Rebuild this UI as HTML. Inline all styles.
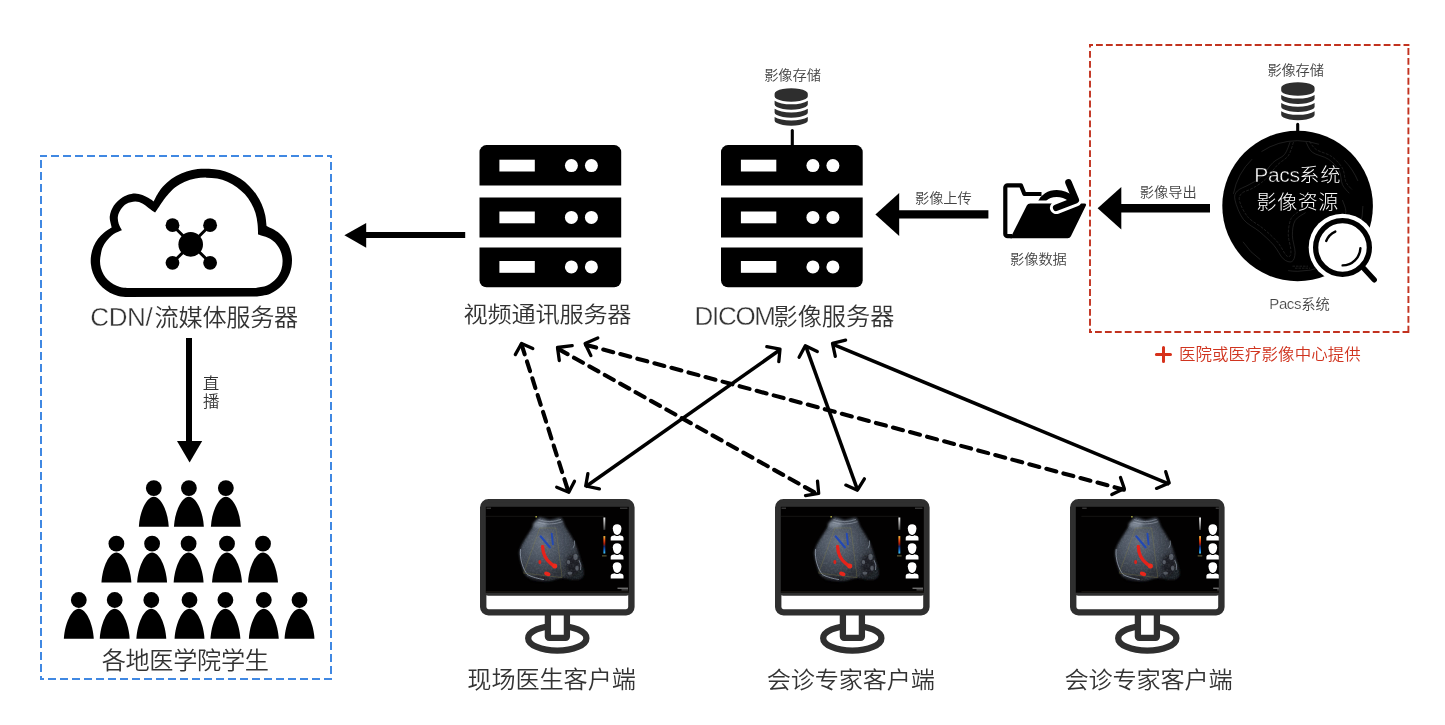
<!DOCTYPE html>
<html lang="zh-CN">
<head>
<meta charset="utf-8">
<title>远程会诊系统架构</title>
<style>
html,body{margin:0;padding:0;background:#fff;}
body{width:1445px;height:725px;overflow:hidden;}
svg{display:block;font-family:"Liberation Sans", "Noto Sans CJK SC", sans-serif;will-change:transform;}
</style>
</head>
<body>
<svg width="1445" height="725" viewBox="0 0 1445 725">
<g fill="none" stroke="#4088e2" stroke-width="2">
<path d="M40 156H47M327 156H332M331 156V158M331 678V680M40 679H44M41 676V680"/>
<path stroke-dasharray="8 4" d="M51 156H323M331 162V674M48 679H332M41 160V672"/>
</g>
<path d="M127.00 297.00C125.53 296.82 121.01 296.62 118.15 295.91C115.29 295.19 112.44 294.08 109.84 292.69C107.24 291.29 104.74 289.52 102.56 287.54C100.38 285.55 98.38 283.23 96.75 280.77C95.12 278.31 93.76 275.57 92.77 272.79C91.79 270.01 91.13 267.02 90.86 264.08C90.58 261.15 90.67 258.09 91.12 255.17C91.57 252.26 92.41 249.31 93.55 246.59C94.70 243.88 96.23 241.22 98.00 238.87C99.77 236.51 101.91 234.33 104.20 232.46C106.48 230.58 110.45 228.41 111.70 227.60C111.38 225.75 109.42 220.13 109.75 216.50C110.08 212.87 111.84 208.82 113.70 205.80C115.56 202.78 118.52 200.23 120.90 198.40C123.28 196.57 125.65 195.63 128.00 194.80C130.35 193.97 132.60 193.37 135.00 193.40C137.40 193.43 140.13 194.22 142.40 195.00C144.67 195.78 146.73 197.03 148.60 198.10C150.47 199.17 152.77 200.85 153.60 201.40C154.53 199.73 156.96 194.49 159.16 191.40C161.37 188.31 164.00 185.39 166.83 182.84C169.66 180.29 172.84 178.01 176.13 176.11C179.43 174.22 183.00 172.65 186.59 171.48C190.18 170.31 193.96 169.52 197.68 169.07C201.40 168.63 205.20 168.64 208.92 168.81C212.64 168.99 216.39 169.34 220.02 170.12C223.65 170.90 227.26 172.05 230.68 173.50C234.09 174.95 237.42 176.76 240.50 178.83C243.58 180.90 246.52 183.30 249.15 185.91C251.78 188.52 254.21 191.44 256.30 194.50C258.40 197.56 260.23 200.88 261.71 204.28C263.19 207.68 264.36 211.29 265.17 214.91C265.99 218.53 266.36 224.15 266.60 226.00C268.72 227.19 275.68 230.05 279.29 233.15C282.90 236.25 286.13 240.34 288.24 244.59C290.35 248.84 291.69 253.90 291.95 258.64C292.20 263.37 291.43 268.55 289.80 273.01C288.16 277.46 285.40 281.91 282.14 285.35C278.88 288.80 274.59 291.79 270.23 293.67C265.87 295.54 258.37 296.11 256.00 296.60ZM127.00 287.90C125.84 287.75 122.26 287.58 120.01 286.98C117.76 286.38 115.52 285.45 113.50 284.28C111.48 283.12 109.56 281.64 107.91 279.99C106.26 278.34 104.78 276.42 103.62 274.40C102.45 272.38 101.52 270.14 100.92 267.89C100.32 265.64 100.00 263.23 100.00 260.90C100.00 258.57 100.49 256.16 100.92 253.91C101.35 251.66 101.67 249.57 102.60 247.40C103.53 245.23 104.65 243.15 106.50 240.90C108.35 238.65 111.13 235.68 113.70 233.90C116.27 232.12 120.53 230.82 121.90 230.20C121.37 229.12 119.37 225.98 118.70 223.70C118.03 221.42 117.53 218.90 117.90 216.50C118.27 214.10 119.45 211.42 120.90 209.30C122.35 207.18 124.22 205.08 126.60 203.80C128.98 202.52 132.57 201.65 135.20 201.60C137.83 201.55 140.17 202.45 142.40 203.50C144.63 204.55 146.48 206.38 148.60 207.90C150.72 209.42 154.02 211.82 155.10 212.60C155.76 211.62 157.78 208.65 159.09 206.71C160.39 204.77 161.56 202.88 162.94 200.97C164.33 199.06 165.33 197.51 167.39 195.24C169.45 192.97 172.39 189.62 175.30 187.36C178.21 185.09 181.51 183.14 184.87 181.65C188.22 180.15 191.85 179.06 195.43 178.39C199.01 177.72 202.72 177.59 206.34 177.63C209.95 177.67 213.59 177.92 217.11 178.61C220.63 179.31 224.15 180.38 227.44 181.80C230.73 183.22 233.94 185.03 236.85 187.13C239.76 189.22 242.51 191.68 244.90 194.35C247.29 197.02 249.44 200.01 251.21 203.13C252.97 206.25 254.43 209.64 255.48 213.06C256.54 216.49 257.09 220.09 257.53 223.68C257.97 227.27 258.01 232.78 258.10 234.60C260.17 235.34 267.13 236.94 270.53 239.02C273.92 241.09 276.49 243.94 278.46 247.04C280.42 250.14 281.84 253.99 282.35 257.63C282.85 261.27 282.54 265.35 281.50 268.88C280.45 272.40 278.48 275.99 276.07 278.76C273.65 281.53 270.37 283.99 267.02 285.51C263.68 287.03 257.84 287.50 256.00 287.90Z" fill="#000" fill-rule="evenodd"/>
<g stroke="#000" stroke-width="3"><path d="M172.5 225.2L210.10000000000002 262.8M210.10000000000002 225.2L172.5 262.8"/></g>
<circle cx="190.70000000000002" cy="244.4" r="12.3"/>
<circle cx="172.5" cy="225.2" r="6.9"/>
<circle cx="172.5" cy="262.8" r="6.9"/>
<circle cx="210.10000000000002" cy="225.2" r="6.9"/>
<circle cx="210.10000000000002" cy="262.8" r="6.9"/>
<path d="M186 338h6v103h-6z"/>
<path d="M177 441h25.2L189.6 462.6z"/>
<circle cx="153.8" cy="488.05" r="7.9"/>
<path d="M138.85 526.75C139.65 511.75 146.40 496.75 153.80 496.75C161.20 496.75 167.95 511.75 168.75 526.75Z"/>
<circle cx="188.9" cy="488.05" r="7.9"/>
<path d="M173.95 526.75C174.75 511.75 181.50 496.75 188.90 496.75C196.30 496.75 203.05 511.75 203.85 526.75Z"/>
<circle cx="225.85" cy="488.05" r="7.9"/>
<path d="M210.90 526.75C211.70 511.75 218.45 496.75 225.85 496.75C233.25 496.75 240.00 511.75 240.80 526.75Z"/>
<circle cx="116.4" cy="543.7" r="7.9"/>
<path d="M101.45 582.40C102.25 567.40 109.00 552.40 116.40 552.40C123.80 552.40 130.55 567.40 131.35 582.40Z"/>
<circle cx="152.1" cy="543.7" r="7.9"/>
<path d="M137.15 582.40C137.95 567.40 144.70 552.40 152.10 552.40C159.50 552.40 166.25 567.40 167.05 582.40Z"/>
<circle cx="188.6" cy="543.7" r="7.9"/>
<path d="M173.65 582.40C174.45 567.40 181.20 552.40 188.60 552.40C196.00 552.40 202.75 567.40 203.55 582.40Z"/>
<circle cx="227" cy="543.7" r="7.9"/>
<path d="M212.05 582.40C212.85 567.40 219.60 552.40 227.00 552.40C234.40 552.40 241.15 567.40 241.95 582.40Z"/>
<circle cx="263" cy="543.7" r="7.9"/>
<path d="M248.05 582.40C248.85 567.40 255.60 552.40 263.00 552.40C270.40 552.40 277.15 567.40 277.95 582.40Z"/>
<circle cx="78.8" cy="600.0" r="7.9"/>
<path d="M63.85 638.70C64.65 623.70 71.40 608.70 78.80 608.70C86.20 608.70 92.95 623.70 93.75 638.70Z"/>
<circle cx="114.7" cy="600.0" r="7.9"/>
<path d="M99.75 638.70C100.55 623.70 107.30 608.70 114.70 608.70C122.10 608.70 128.85 623.70 129.65 638.70Z"/>
<circle cx="151.3" cy="600.0" r="7.9"/>
<path d="M136.35 638.70C137.15 623.70 143.90 608.70 151.30 608.70C158.70 608.70 165.45 623.70 166.25 638.70Z"/>
<circle cx="189.5" cy="600.0" r="7.9"/>
<path d="M174.55 638.70C175.35 623.70 182.10 608.70 189.50 608.70C196.90 608.70 203.65 623.70 204.45 638.70Z"/>
<circle cx="225.4" cy="600.0" r="7.9"/>
<path d="M210.45 638.70C211.25 623.70 218.00 608.70 225.40 608.70C232.80 608.70 239.55 623.70 240.35 638.70Z"/>
<circle cx="263.8" cy="600.0" r="7.9"/>
<path d="M248.85 638.70C249.65 623.70 256.40 608.70 263.80 608.70C271.20 608.70 277.95 623.70 278.75 638.70Z"/>
<circle cx="299.5" cy="600.0" r="7.9"/>
<path d="M284.55 638.70C285.35 623.70 292.10 608.70 299.50 608.70C306.90 608.70 313.65 623.70 314.45 638.70Z"/>
<path d="M366 232h99.2v6H366z"/>
<path d="M344.4 235.3L366.2 223v24.8z"/>
<g transform="translate(479.5 145.1)">
<path d="M0 40.3V7a7 7 0 0 1 7-7H134.7a7 7 0 0 1 7 7V40.3z"/>
<rect x="0" y="52.4" width="141.7" height="40"/>
<path d="M0 102.3H141.7V135.1a7 7 0 0 1-7 7H7a7 7 0 0 1-7-7z"/>
<rect x="19.9" y="14.6" width="35.4" height="11.8" fill="#fff"/>
<circle cx="91.9" cy="20.5" r="6.5" fill="#fff"/>
<circle cx="111.9" cy="20.5" r="6.5" fill="#fff"/>
<rect x="19.9" y="66.39999999999999" width="35.4" height="11.8" fill="#fff"/>
<circle cx="91.9" cy="72.3" r="6.5" fill="#fff"/>
<circle cx="111.9" cy="72.3" r="6.5" fill="#fff"/>
<rect x="19.9" y="115.89999999999999" width="35.4" height="11.8" fill="#fff"/>
<circle cx="91.9" cy="121.8" r="6.5" fill="#fff"/>
<circle cx="111.9" cy="121.8" r="6.5" fill="#fff"/>
</g>
<g transform="translate(721 145.1)">
<path d="M0 40.3V7a7 7 0 0 1 7-7H134.7a7 7 0 0 1 7 7V40.3z"/>
<rect x="0" y="52.4" width="141.7" height="40"/>
<path d="M0 102.3H141.7V135.1a7 7 0 0 1-7 7H7a7 7 0 0 1-7-7z"/>
<rect x="19.9" y="14.6" width="35.4" height="11.8" fill="#fff"/>
<circle cx="91.9" cy="20.5" r="6.5" fill="#fff"/>
<circle cx="111.9" cy="20.5" r="6.5" fill="#fff"/>
<rect x="19.9" y="66.39999999999999" width="35.4" height="11.8" fill="#fff"/>
<circle cx="91.9" cy="72.3" r="6.5" fill="#fff"/>
<circle cx="111.9" cy="72.3" r="6.5" fill="#fff"/>
<rect x="19.9" y="115.89999999999999" width="35.4" height="11.8" fill="#fff"/>
<circle cx="91.9" cy="121.8" r="6.5" fill="#fff"/>
<circle cx="111.9" cy="121.8" r="6.5" fill="#fff"/>
</g>
<path transform="translate(771.8333333333334 88.3) scale(0.021614583333333336 0.020926339285714284)" fill="#2e2e2e" d="M896 768q237 0 443-43t325-127v170q0 69-103 128t-280 93.5-385 34.5-385-34.5-280-93.5-103-128v-170q119 84 325 127t443 43zM896 1536q237 0 443-43t325-127v170q0 69-103 128t-280 93.5-385 34.5-385-34.5-280-93.5-103-128v-170q119 84 325 127t443 43zM896 1152q237 0 443-43t325-127v170q0 69-103 128t-280 93.5-385 34.5-385-34.5-280-93.5-103-128v-170q119 84 325 127t443 43zM896 0q208 0 385 34.5t280 93.5 103 128v128q0 69-103 128t-280 93.5-385 34.5-385-34.5-280-93.5-103-128v-128q0-69 103-128t280-93.5 385-34.5z"/>
<path d="M792.3 130.6V146" stroke="#000" stroke-width="3.1" stroke-linecap="round"/>
<path d="M899 210.2h89.4v8.4H899z"/>
<path d="M875.4 214.4L899.2 192.9v43z"/>
<g>
<path d="M1012 236.2H1007.6a2.3 2.3 0 0 1-2.3-2.3V187.6a2.3 2.3 0 0 1 2.3-2.3H1020.9L1024.4 194H1041.5" fill="none" stroke="#000" stroke-width="4.2" stroke-linejoin="round"/>
<path d="M1030.2 203.5H1084.3q2.6 0 1.5 2.3L1070.9 236.3q-1 2-3.2 2H1010.3L1026.8 205.5q1-2 3.4-2z"/>
<path d="M1075.8 200.1L1056.2 207.8" fill="none" stroke="#fff" stroke-width="12.6" stroke-linecap="round"/>
<clipPath id="fc"><rect x="1030" y="180" width="60" height="20.4"/></clipPath>
<path clip-path="url(#fc)" d="M1040.6 204C1043 197.2 1049.5 193.5 1056.7 193.5C1062.5 193.5 1067.5 195.6 1071.5 199.2" fill="none" stroke="#000" stroke-width="6.8"/>
<path d="M1068.5 182.4L1075.8 200.1L1056.2 207.8" fill="none" stroke="#000" stroke-width="6.6" stroke-linecap="round" stroke-linejoin="round"/>
</g>
<g fill="none" stroke="#c2321f" stroke-width="1.9">
<path d="M1089 45H1093M1090 44V47.5M1089 332H1092"/>
<path stroke-dasharray="6.8 3.12" d="M1096 45H1409.4M1408.4 48.1V333M1095 332H1409.4M1090 51V333"/>
</g>
<path transform="translate(1278.4166666666667 82.3) scale(0.021744791666666666 0.02114955357142857)" fill="#2e2e2e" d="M896 768q237 0 443-43t325-127v170q0 69-103 128t-280 93.5-385 34.5-385-34.5-280-93.5-103-128v-170q119 84 325 127t443 43zM896 1536q237 0 443-43t325-127v170q0 69-103 128t-280 93.5-385 34.5-385-34.5-280-93.5-103-128v-170q119 84 325 127t443 43zM896 1152q237 0 443-43t325-127v170q0 69-103 128t-280 93.5-385 34.5-385-34.5-280-93.5-103-128v-170q119 84 325 127t443 43zM896 0q208 0 385 34.5t280 93.5 103 128v128q0 69-103 128t-280 93.5-385 34.5-385-34.5-280-93.5-103-128v-128q0-69 103-128t280-93.5 385-34.5z"/>
<path d="M1297.7 124.4V135" stroke="#000" stroke-width="3.1" stroke-linecap="round"/>
<path d="M1121 204h89v8.6h-89z"/>
<path d="M1097.6 208.3L1121.3 187v42.5z"/>
<circle cx="1297.6" cy="206" r="75.3"/>
<g fill="none" stroke="#8c8c8c" stroke-width="0.6" opacity="0.36">
<circle cx="1297.6" cy="206" r="65.3" stroke-dasharray="40 12 60 30 25 50" />
<path d="M1290.1 142.1C1289.15 144.15 1287.26 151.17 1284.41 154.59C1281.57 158.00 1277.02 158.76 1273.03 162.55C1269.05 166.34 1264.50 173.66 1260.52 177.34C1256.53 181.02 1253.01 182.35 1249.14 184.63C1245.27 186.90 1239.65 188.42 1237.30 191.00C1234.95 193.58 1234.00 195.36 1235.03 200.10C1236.05 204.84 1239.39 214.21 1243.45 219.45C1247.51 224.68 1254.33 227.22 1259.38 231.51C1264.42 235.80 1269.73 240.61 1273.72 245.16C1277.70 249.72 1280.24 256.09 1283.27 258.82C1286.31 261.55 1289.95 262.61 1291.92 261.55C1293.90 260.49 1295.03 256.81 1295.11 252.45C1295.19 248.08 1292.38 240.69 1292.38 235.38C1292.38 230.07 1292.91 224.38 1295.11 220.58C1297.31 216.79 1303.83 213.95 1305.58 212.62"/>
<path d="M1293.5 142.1C1292.64 144.34 1290.94 151.93 1288.28 155.72C1285.63 159.52 1281.45 160.84 1277.59 164.83C1273.72 168.81 1269.24 175.71 1265.07 179.62C1260.90 183.53 1256.42 185.99 1252.55 188.27C1248.68 190.54 1244.02 191.11 1241.85 193.27C1239.69 195.44 1238.55 197.26 1239.58 201.24C1240.60 205.22 1244.05 212.62 1248.00 217.17C1251.94 221.72 1258.32 224.38 1263.25 228.55C1268.18 232.72 1273.79 237.77 1277.59 242.21C1281.38 246.64 1283.92 252.90 1286.01 255.18C1288.09 257.45 1289.31 256.88 1290.10 255.86C1290.90 254.84 1291.09 252.64 1290.79 249.03C1290.48 245.43 1288.21 239.36 1288.28 234.24C1288.36 229.12 1289.04 222.41 1291.24 218.31C1293.44 214.21 1299.77 211.10 1301.48 209.66" stroke-dasharray="3 1.2"/>
<path d="M1306.0 142.1C1307.10 143.78 1308.69 149.47 1312.41 152.31C1316.12 155.15 1323.90 156.10 1328.34 159.14C1332.77 162.17 1336.68 166.27 1339.03 170.52C1341.38 174.76 1340.74 180.83 1342.45 184.63C1344.15 188.42 1348.14 191.83 1349.27 193.27"/>
<path d="M1309.4 141.4C1310.58 142.75 1312.60 147.08 1316.27 149.58C1319.95 152.08 1327.16 153.30 1331.52 156.41C1335.88 159.52 1340.06 163.99 1342.45 168.24C1344.84 172.49 1344.23 178.29 1345.86 181.90C1347.49 185.50 1351.17 188.53 1352.23 189.86" stroke-dasharray="3 1.2"/>
<path d="M1342.4 200.1C1343.02 202.00 1345.86 207.69 1345.86 211.48C1345.86 215.27 1343.02 220.96 1342.45 222.86"/>
<path d="M1292.5 266.2H1308M1295 268.2H1310" stroke-dasharray="2.5 1"/>
</g>
<circle cx="1342.5" cy="247.5" r="33.8" fill="#fff"/>
<path d="M1362.5 267L1374.2 279.8" stroke="#000" stroke-width="5.4" stroke-linecap="round"/>
<circle cx="1342.5" cy="247.5" r="26.85" fill="#fff" stroke="#000" stroke-width="5.3"/>
<g fill="none" stroke="#000" stroke-width="2.4" stroke-linecap="round"><path d="M1326.2 241A17.5 17.5 0 0 1 1335.3 231.6"/><path d="M1360.4 248.2A17.9 17.9 0 0 1 1342.6 265.4"/></g>
<path d="M1156.4 354.5H1170.5M1163.5 347.6V361.5" stroke="#d7311b" stroke-width="3" stroke-linecap="round" fill="none"/>
<path d="M521.6 344.6L568.4 491.8" stroke="#000" stroke-width="4.1" stroke-linecap="round" stroke-dasharray="10.3 7.35" fill="none"/>
<path d="M515.3 354.6L521.5 343.5L532.8 348.5" fill="none" stroke="#000" stroke-width="3.3" stroke-linecap="round" stroke-linejoin="round"/>
<path d="M556.7 487.2L568.8 492.2L574.5 481.3" fill="none" stroke="#000" stroke-width="3.3" stroke-linecap="round" stroke-linejoin="round"/>
<path d="M558.6 349.1L818.2 494.5" stroke="#000" stroke-width="4.1" stroke-linecap="round" stroke-dasharray="10.3 7.35" fill="none"/>
<path d="M572.2 345.7L557.5 347.5L559.3 360.5" fill="none" stroke="#000" stroke-width="3.3" stroke-linecap="round" stroke-linejoin="round"/>
<path d="M817.5 481.1L818.7 493.4L805.5 495.6" fill="none" stroke="#000" stroke-width="3.3" stroke-linecap="round" stroke-linejoin="round"/>
<path d="M586.2 344.9L1123.9 489.7" stroke="#000" stroke-width="4.1" stroke-linecap="round" stroke-dasharray="10.3 7.35" fill="none"/>
<path d="M597.8 337.9L585.1 343.5L590.9 355.6" fill="none" stroke="#000" stroke-width="3.3" stroke-linecap="round" stroke-linejoin="round"/>
<path d="M1120.5 477.5L1124.3 488.5L1111.8 494.6" fill="none" stroke="#000" stroke-width="3.3" stroke-linecap="round" stroke-linejoin="round"/>
<path d="M780.0 349.8L585.6 486.8" stroke="#000" stroke-width="3.5" fill="none"/>
<path d="M766.8 346.7L780.0 349.1L778.8 361.7" fill="none" stroke="#000" stroke-width="3.3" stroke-linecap="round" stroke-linejoin="round"/>
<path d="M587.9 473.6L585.7 486.0L599.4 488.9" fill="none" stroke="#000" stroke-width="3.3" stroke-linecap="round" stroke-linejoin="round"/>
<path d="M805.6 345.6L857.7 490.3" stroke="#000" stroke-width="3.5" fill="none"/>
<path d="M799.1 357.2L805.3 345.7L817.3 351.5" fill="none" stroke="#000" stroke-width="3.3" stroke-linecap="round" stroke-linejoin="round"/>
<path d="M845.8 485.1L857.4 490.2L864.4 478.8" fill="none" stroke="#000" stroke-width="3.3" stroke-linecap="round" stroke-linejoin="round"/>
<path d="M832.5 344.2L1169.3 484.1" stroke="#000" stroke-width="3.5" fill="none"/>
<path d="M845.6 340.2L832.5 343.4L835.3 356.4" fill="none" stroke="#000" stroke-width="3.3" stroke-linecap="round" stroke-linejoin="round"/>
<path d="M1165.7 471.7L1169.2 483.1L1156.5 488.4" fill="none" stroke="#000" stroke-width="3.3" stroke-linecap="round" stroke-linejoin="round"/>
<defs>
<radialGradient id="ug" gradientUnits="userSpaceOnUse" cx="62" cy="42" r="48"><stop offset="0" stop-color="#646d7a"/><stop offset="0.4" stop-color="#48505c"/><stop offset="0.75" stop-color="#31363e"/><stop offset="1" stop-color="#1d2025"/></radialGradient>
<linearGradient id="cb1" x1="0" y1="0" x2="0" y2="1"><stop offset="0" stop-color="#f0f0f0"/><stop offset="1" stop-color="#3a3a3a"/></linearGradient>
<linearGradient id="cb2" x1="0" y1="0" x2="0" y2="1"><stop offset="0" stop-color="#f0c040"/><stop offset="0.25" stop-color="#e84a10"/><stop offset="0.45" stop-color="#a01808"/><stop offset="0.6" stop-color="#102a70"/><stop offset="0.8" stop-color="#1a6ad0"/><stop offset="1" stop-color="#40c8f0"/></linearGradient>
<filter id="bl" x="-20%" y="-20%" width="140%" height="140%"><feGaussianBlur stdDeviation="1.1"/></filter>
<filter id="bl2" x="-30%" y="-30%" width="160%" height="160%"><feGaussianBlur stdDeviation="0.45"/></filter>
<filter id="bl3" x="-30%" y="-30%" width="160%" height="160%"><feGaussianBlur stdDeviation="1.8"/></filter>
<filter id="nz" x="0" y="0" width="100%" height="100%"><feTurbulence type="fractalNoise" baseFrequency="0.55" numOctaves="2" seed="7" result="n"/><feColorMatrix in="n" type="matrix" values="0 0 0 0 0.75  0 0 0 0 0.8  0 0 0 0 0.9  1.6 0 0 0 -0.62"/><feComposite in2="SourceGraphic" operator="in"/><feGaussianBlur stdDeviation="0.35"/></filter>
<g id="bust" fill="#fff"><path d="M0 -8.1C2.6 -8.1 4.3 -6.6 4.3 -4.1C4.3 -2.6 4.0 -1.0 3.2 0.4C2.4 1.7 1.3 2.5 0 2.5C-1.3 2.5 -2.4 1.7 -3.2 0.4C-4.0 -1.0 -4.3 -2.6 -4.3 -4.1C-4.3 -6.6 -2.6 -8.1 0 -8.1Z"/><path d="M-6.4 8.1V5.7C-6.4 4.4 -5.6 3.6 -4.3 3.3L-2.2 2.8C-1.6 3.4 -0.8 3.7 0 3.7C0.8 3.7 1.6 3.4 2.2 2.8L4.3 3.3C5.6 3.6 6.4 4.4 6.4 5.7V8.1Z"/></g>
<clipPath id="scr"><rect x="5.8" y="7.7" width="143" height="85.9"/></clipPath>
<g id="us">
<path d="M5.7 17.2H124" stroke="#2a2a26" stroke-width="0.5"/>
<g filter="url(#bl)"><path d="M58.5 18.6C55.4 20.2 54.0 26.0 51.1 30.7C48.2 35.4 43.3 42.7 41.4 46.8C39.5 50.9 39.4 52.2 39.5 55.5C39.6 58.8 41.0 63.3 42.0 66.7C43.0 70.1 43.6 73.6 45.5 75.8C47.4 78.0 49.9 79.0 53.5 80.0C57.1 81.0 62.4 82.2 67.2 82.0C72.0 81.8 77.8 79.0 82.1 78.8C86.4 78.6 89.8 80.5 93 80.6C96.2 80.7 99.7 80.8 101.5 79.5C103.3 78.2 104.1 76.1 103.8 72.5C103.5 68.9 101.3 62.9 99.8 58C98.2 53.1 96.9 48.1 94.5 43.1C92.1 38.1 87.9 32.3 85.6 28.2C83.3 24.1 83.5 19.8 80.9 18.6C78.3 17.4 73.7 20.8 70 20.8C66.3 20.8 61.6 17.0 58.5 18.6Z" fill="url(#ug)"/></g>
<g filter="url(#bl3)" opacity="0.75"><ellipse cx="93" cy="66" rx="7" ry="11" fill="#15181c"/><ellipse cx="60" cy="25.5" rx="7" ry="3.5" fill="#8a94a2"/><ellipse cx="60" cy="79" rx="10" ry="2.5" fill="#1a1d22"/><ellipse cx="78" cy="74" rx="6" ry="4" fill="#2a2e34"/></g>
<g filter="url(#bl2)" opacity="0.5" fill="#8a929e"><ellipse cx="95.5" cy="58" rx="2.2" ry="3"/><ellipse cx="97" cy="69" rx="1.8" ry="2.6"/><ellipse cx="90" cy="74" rx="2.4" ry="1.6"/><ellipse cx="88.5" cy="63" rx="1.6" ry="2.2"/></g>
<path d="M58.5 18.6C55.4 20.2 54.0 26.0 51.1 30.7C48.2 35.4 43.3 42.7 41.4 46.8C39.5 50.9 39.4 52.2 39.5 55.5C39.6 58.8 41.0 63.3 42.0 66.7C43.0 70.1 43.6 73.6 45.5 75.8C47.4 78.0 49.9 79.0 53.5 80.0C57.1 81.0 62.4 82.2 67.2 82.0C72.0 81.8 77.8 79.0 82.1 78.8C86.4 78.6 89.8 80.5 93 80.6C96.2 80.7 99.7 80.8 101.5 79.5C103.3 78.2 104.1 76.1 103.8 72.5C103.5 68.9 101.3 62.9 99.8 58C98.2 53.1 96.9 48.1 94.5 43.1C92.1 38.1 87.9 32.3 85.6 28.2C83.3 24.1 83.5 19.8 80.9 18.6C78.3 17.4 73.7 20.8 70 20.8C66.3 20.8 61.6 17.0 58.5 18.6Z" fill="#000" filter="url(#nz)" opacity="0.13"/>
<g fill="none" filter="url(#bl2)"><path d="M40.5 50C39.5 60 43 70 47.5 75.5C52 78 58 79.5 64 80.5" stroke="#9aa6b6" stroke-width="0.9" opacity="0.8"/><path d="M58.5 20.5Q69.5 24.5 81 20.3M57.5 23Q69.5 27 82.5 22.6" stroke="#aab2be" stroke-width="0.7" opacity="0.7"/><path d="M93 49Q95.5 45.5 94.5 41.5M99 61Q102 66 100.5 71" stroke="#8e98a6" stroke-width="1" opacity="0.7"/></g>
<path d="M59.8 28.9H75.9L82.1 78.5L43.6 74.1Z" fill="none" stroke="#8a8446" stroke-width="0.35" opacity="0.9"/>
<rect x="55.4" y="17.1" width="1.6" height="1.2" fill="#c8c850"/>
<g filter="url(#bl2)" fill="none" stroke-linecap="round">
<path d="M60.6 37.2L70 48.4" stroke="#2448b4" stroke-width="2.1"/>
<path d="M71.7 34.6L72.9 45.2" stroke="#2448b4" stroke-width="1.9"/>
<path d="M62.6 47.2C62.8 54 66 60.5 70.5 64.2C72 65.6 73.5 66.6 75 67.4" stroke="#e5241a" stroke-width="3.3"/>
<circle cx="74.7" cy="67" r="2.5" fill="#ee2a1c" stroke="none"/>
<ellipse cx="59.9" cy="63" rx="1.5" ry="2.1" fill="#d8241c" stroke="none"/>
<ellipse cx="67.3" cy="74.8" rx="3.2" ry="2" fill="#e8261c" stroke="none" transform="rotate(20 67.3 74.8)"/>
</g>
<rect x="123.4" y="18.4" width="1.9" height="12.4" fill="url(#cb1)" filter="url(#bl2)"/>
<rect x="123.4" y="37" width="1.9" height="17.4" fill="url(#cb2)" filter="url(#bl2)"/>
<rect x="122" y="56.3" width="4.6" height="1" fill="#8c8650" opacity="0.8"/>
<rect x="137.5" y="88.6" width="10.5" height="1" fill="#9a9a9a"/><rect x="141.5" y="90.4" width="6.5" height="0.8" fill="#777"/>
<rect x="6.5" y="8.6" width="4.5" height="0.9" fill="#555"/><rect x="140" y="8.6" width="7.5" height="0.9" fill="#555"/>
<path d="M5.7 92.7H148.8" stroke="#3a3628" stroke-width="0.5"/>
<use href="#bust" x="137.1" y="33.3"/>
<use href="#bust" x="137.1" y="52.3"/>
<use href="#bust" x="137.1" y="71.3"/>
</g>
</defs>
<g transform="translate(480 499.1)">
<ellipse cx="77.3" cy="139.1" rx="29.1" ry="12.4" fill="none" stroke="#2f2f2f" stroke-width="6.3"/>
<path d="M67.9 113V137.4a1.3 1.3 0 0 0 1.3 1.3H85.6a1.3 1.3 0 0 0 1.3-1.3V113" fill="#fff" stroke="#2f2f2f" stroke-width="6.3"/>
<rect x="3.2" y="3.2" width="148.2" height="110.1" rx="5.3" ry="5.3" fill="#fff" stroke="#2f2f2f" stroke-width="6.4"/>
<rect x="3.2" y="3.2" width="148.2" height="93.5" rx="5" fill="#2f2f2f"/>
<rect x="5.8" y="7.7" width="143" height="85.9" fill="#020101"/>
<g clip-path="url(#scr)"><use href="#us" x="0"/></g>
</g>
<g transform="translate(775 499.1)">
<ellipse cx="77.3" cy="139.1" rx="29.1" ry="12.4" fill="none" stroke="#2f2f2f" stroke-width="6.3"/>
<path d="M67.9 113V137.4a1.3 1.3 0 0 0 1.3 1.3H85.6a1.3 1.3 0 0 0 1.3-1.3V113" fill="#fff" stroke="#2f2f2f" stroke-width="6.3"/>
<rect x="3.2" y="3.2" width="148.2" height="110.1" rx="5.3" ry="5.3" fill="#fff" stroke="#2f2f2f" stroke-width="6.4"/>
<rect x="3.2" y="3.2" width="148.2" height="93.5" rx="5" fill="#2f2f2f"/>
<rect x="5.8" y="7.7" width="143" height="85.9" fill="#020101"/>
<g clip-path="url(#scr)"><use href="#us" x="0"/></g>
</g>
<g transform="translate(1070 499.1)">
<ellipse cx="77.3" cy="139.1" rx="29.1" ry="12.4" fill="none" stroke="#2f2f2f" stroke-width="6.3"/>
<path d="M67.9 113V137.4a1.3 1.3 0 0 0 1.3 1.3H85.6a1.3 1.3 0 0 0 1.3-1.3V113" fill="#fff" stroke="#2f2f2f" stroke-width="6.3"/>
<rect x="3.2" y="3.2" width="148.2" height="110.1" rx="5.3" ry="5.3" fill="#fff" stroke="#2f2f2f" stroke-width="6.4"/>
<rect x="3.2" y="3.2" width="148.2" height="93.5" rx="5" fill="#2f2f2f"/>
<rect x="5.8" y="7.7" width="143" height="85.9" fill="#020101"/>
<g clip-path="url(#scr)"><use href="#us" x="5.7"/></g>
</g>
<text transform="translate(0 325.85) scale(1 0.97)" fill="#333" font-weight="350"><tspan x="90.35" font-size="25.98" font-weight="400" letter-spacing="-0.38" stroke="#fff" stroke-width="0.35">CDN/</tspan><tspan x="154.60" font-size="24.2" letter-spacing="-0.29">流媒体服务器</tspan></text>
<text transform="translate(0 668.62) scale(1 0.97)" fill="#333" font-weight="350"><tspan x="101.65" font-size="24.2" letter-spacing="-0.33">各地医学院学生</tspan></text>
<text transform="translate(0 321.50) scale(1 0.91)" fill="#333" font-weight="350"><tspan x="463.60" font-size="24.2" letter-spacing="-0.23">视频通讯服务器</tspan></text>
<text transform="translate(0 325.25) scale(1 0.97)" fill="#333" font-weight="350"><tspan x="694.60" font-size="25.98" font-weight="400" letter-spacing="-1.3" stroke="#fff" stroke-width="0.35">DICOM</tspan><tspan x="773.50" font-size="24.2">影像服务器</tspan></text>
<text transform="translate(0 687.62) scale(1 0.97)" fill="#333" font-weight="350"><tspan x="467.35" font-size="24.2" letter-spacing="-0.12">现场医生客户端</tspan></text>
<text transform="translate(0 687.84) scale(1 0.95)" fill="#333" font-weight="350"><tspan x="766.75" font-size="24.2" letter-spacing="-0.17">会诊专家客户端</tspan></text>
<text transform="translate(0 687.84) scale(1 0.95)" fill="#333" font-weight="350"><tspan x="1064.45" font-size="24.2" letter-spacing="-0.17">会诊专家客户端</tspan></text>
<text transform="translate(0 389.45) scale(1 0.97)" fill="#333" font-weight="350"><tspan x="202.65" y="0.00" font-size="16.5">直</tspan><tspan x="202.90" y="18.51" font-size="16.5">播</tspan></text>
<text transform="translate(0 79.76) scale(1 0.97)" fill="#444" font-weight="350"><tspan x="764.15" font-size="14.3" letter-spacing="-0.08">影像存储</tspan></text>
<text transform="translate(0 203.21) scale(1 0.97)" fill="#444" font-weight="350"><tspan x="915.05" font-size="14.3" letter-spacing="-0.18">影像上传</tspan></text>
<text transform="translate(0 264.11) scale(1 0.97)" fill="#444" font-weight="350"><tspan x="1010.05" font-size="14.3" letter-spacing="-0.12">影像数据</tspan></text>
<text transform="translate(0 74.51) scale(1 0.97)" fill="#444" font-weight="350"><tspan x="1267.45" font-size="14.3" letter-spacing="-0.22">影像存储</tspan></text>
<text transform="translate(0 197.21) scale(1 0.97)" fill="#444" font-weight="350"><tspan x="1139.85" font-size="14.3" letter-spacing="-0.07">影像导出</tspan></text>
<text transform="translate(0 308.79) scale(1 0.97)" fill="#444" font-weight="350"><tspan x="1269.35" font-size="15.05" font-weight="400" letter-spacing="-0.45" stroke="#fff" stroke-width="0.2">Pacs</tspan><tspan x="1301.25" font-size="14.3" letter-spacing="0.05">系统</tspan></text>
<text transform="translate(0 360.48) scale(1 0.97)" fill="#d0341f" font-weight="350"><tspan x="1178.90" font-size="16.5" letter-spacing="0.04">医院或医疗影像中心提供</tspan></text>
<text transform="translate(0 182.17) scale(1 0.97)" fill="#fff" font-weight="300"><tspan x="1254.15" font-size="21.03" font-weight="400" letter-spacing="-0.28" stroke="#000" stroke-width="0.45">Pacs</tspan><tspan x="1299.20" font-size="20" letter-spacing="1.2">系统</tspan></text>
<text transform="translate(0 209.10) scale(1 0.97)" fill="#fff" font-weight="300"><tspan x="1256.55" font-size="20" letter-spacing="0.62">影像资源</tspan></text>
</svg>
</body>
</html>
